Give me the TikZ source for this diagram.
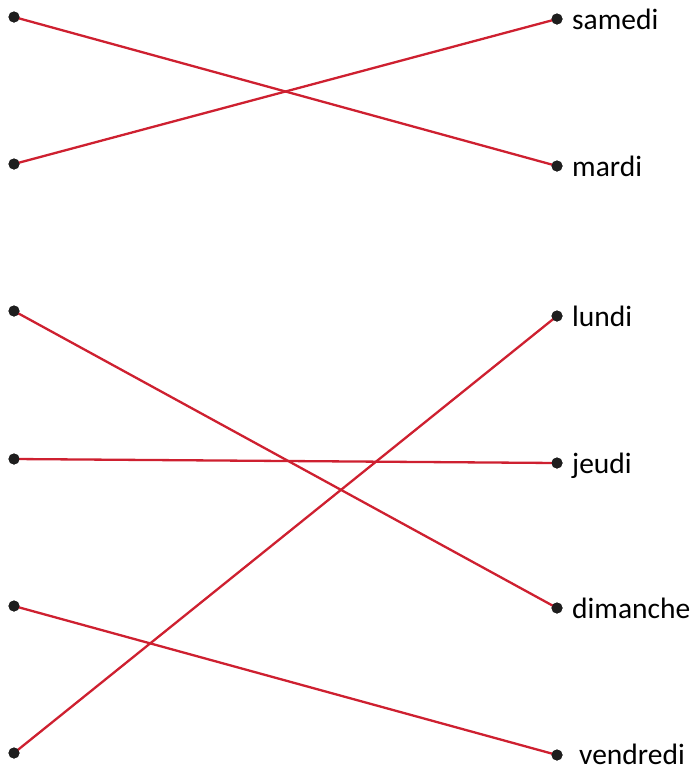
\documentclass[tikz,border=0pt]{standalone}
\usepackage{fontspec}
\setmainfont{Carlito}
\definecolor{linered}{RGB}{206,32,48}
\definecolor{dotgray}{RGB}{30,30,30}
\begin{document}
\begin{tikzpicture}[x=1pt,y=-1pt,
  dot/.style={circle,fill=dotgray,inner sep=0pt,minimum size=11pt},
  lbl/.style={anchor=west,inner sep=0pt,text depth=0pt,font=\fontsize{29.5}{32}\selectfont},
  link/.style={draw=linered,line width=2.3pt}]
\useasboundingbox (0,0) rectangle (695,769);
\node[dot] (l1) at (14,17) {};
\node[dot] (l2) at (14,164) {};
\node[dot] (l3) at (14,311) {};
\node[dot] (l4) at (14,459) {};
\node[dot] (l5) at (14,606) {};
\node[dot] (l6) at (14,753) {};
\node[dot] (r1) at (557,19) {};
\node[dot] (r2) at (557,166) {};
\node[dot] (r3) at (557,316) {};
\node[dot] (r4) at (557,463) {};
\node[dot] (r5) at (557,608) {};
\node[dot] (r6) at (557,755) {};
\node[lbl] (t1) at (572,19) {samedi};
\node[lbl] (t2) at (572,166) {mardi};
\node[lbl] (t3) at (572,316) {lundi};
\node[lbl] (t4) at (572,463) {jeudi};
\node[lbl] (t5) at (572,608) {dimanche};
\node[lbl] (t6) at (579,754) {vendredi};
\draw[link] (l1.center) -- (r2.center);
\draw[link] (l2.center) -- (r1.center);
\draw[link] (l3.center) -- (r5.center);
\draw[link] (l4.center) -- (r4.center);
\draw[link] (l5.center) -- (r6.center);
\draw[link] (l6.center) -- (r3.center);
\foreach \n in {l1,l2,l3,l4,l5,l6,r1,r2,r3,r4,r5,r6} \node[dot] at (\n) {};
\end{tikzpicture}
\end{document}
